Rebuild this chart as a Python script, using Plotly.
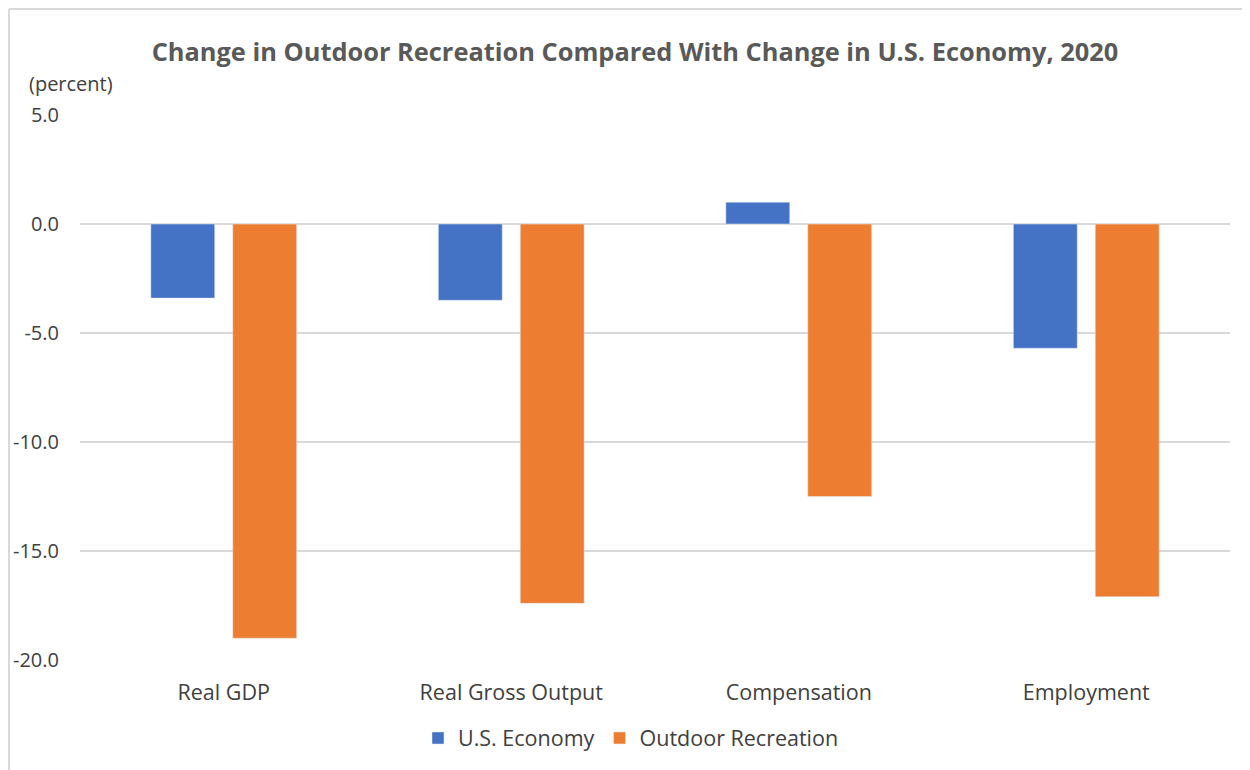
import plotly.graph_objects as go

categories = ["Real GDP", "Real Gross Output", "Compensation", "Employment"]
us_economy = [-3.4, -3.5, 1.0, -5.7]
outdoor_recreation = [-19.0, -17.4, -12.5, -17.1]
y_ticks = [5, 0, -5, -10, -15, -20]
y_tick_labels = ["5.0", "0.0", "-5.0", "-10.0", "-15.0", "-20.0"]

FONT = "Open Sans"
OFF = 8  # page offset of the figure inside the browser window
W, H = 1242, 762
L, R, T, B = 72, 20, 107, 110
pw, ph = W - L - R, H - T - B


def px_x(screen_x):
    return (screen_x - OFF - L) / pw


def px_y(screen_y):
    return (H - B - (screen_y - OFF)) / ph


fig = go.Figure()
fig.add_trace(go.Bar(x=categories, y=us_economy, name="U.S. Economy",
                     marker=dict(color="#4472C4")))
fig.add_trace(go.Bar(x=categories, y=outdoor_recreation, name="Outdoor Recreation",
                     marker=dict(color="#ED7D31")))

fig.update_layout(
    width=W, height=H,
    margin=dict(l=L, r=R, t=T, b=B, autoexpand=False),
    paper_bgcolor="white", plot_bgcolor="white",
    barmode="group", bargap=0.43, bargroupgap=0.22,
    font=dict(family=FONT, color="#404040", size=20),
    title=dict(text="<b>Change in Outdoor Recreation Compared With Change in U.S. Economy, 2020</b>",
               x=(635 - OFF) / W, xanchor="center", y=1 - (52 - OFF) / H, yanchor="middle",
               font=dict(family=FONT, size=25.4, color="#595959")),
    showlegend=True,
    legend=dict(orientation="h", x=px_x(631), xanchor="center", y=px_y(738), yanchor="middle",
                font=dict(family=FONT, size=21.5, color="#404040"),
                itemwidth=30, traceorder="normal"),
    xaxis=dict(showgrid=False, showline=False, ticks="", ticklabelstandoff=17,
               automargin=False,
               tickfont=dict(family=FONT, size=21.5, color="#404040")),
    yaxis=dict(range=[-20, 5], tickvals=y_ticks, ticktext=y_tick_labels,
               showgrid=True, gridcolor="#D9D9D9", gridwidth=1.5,
               zeroline=True, zerolinecolor="#D9D9D9", zerolinewidth=1.5,
               showline=False, ticks="", ticklabelstandoff=20, automargin=False,
               tickfont=dict(family=FONT, size=20, color="#404040")),
    annotations=[dict(text="(percent)", xref="paper", yref="paper",
                      x=px_x(27), y=px_y(83), xanchor="left", yanchor="middle",
                      showarrow=False, font=dict(family=FONT, size=20, color="#404040"))],
    shapes=[
        dict(type="line", xref="paper", yref="paper", x0=px_x(OFF + 1), x1=px_x(1300),
             y0=px_y(OFF + 1), y1=px_y(OFF + 1), line=dict(color="#D9D9D9", width=2)),
        dict(type="line", xref="paper", yref="paper", x0=px_x(OFF + 1), x1=px_x(OFF + 1),
             y0=px_y(OFF + 1), y1=px_y(800), line=dict(color="#D9D9D9", width=2)),
    ],
)

fig.write_html("out.html")
